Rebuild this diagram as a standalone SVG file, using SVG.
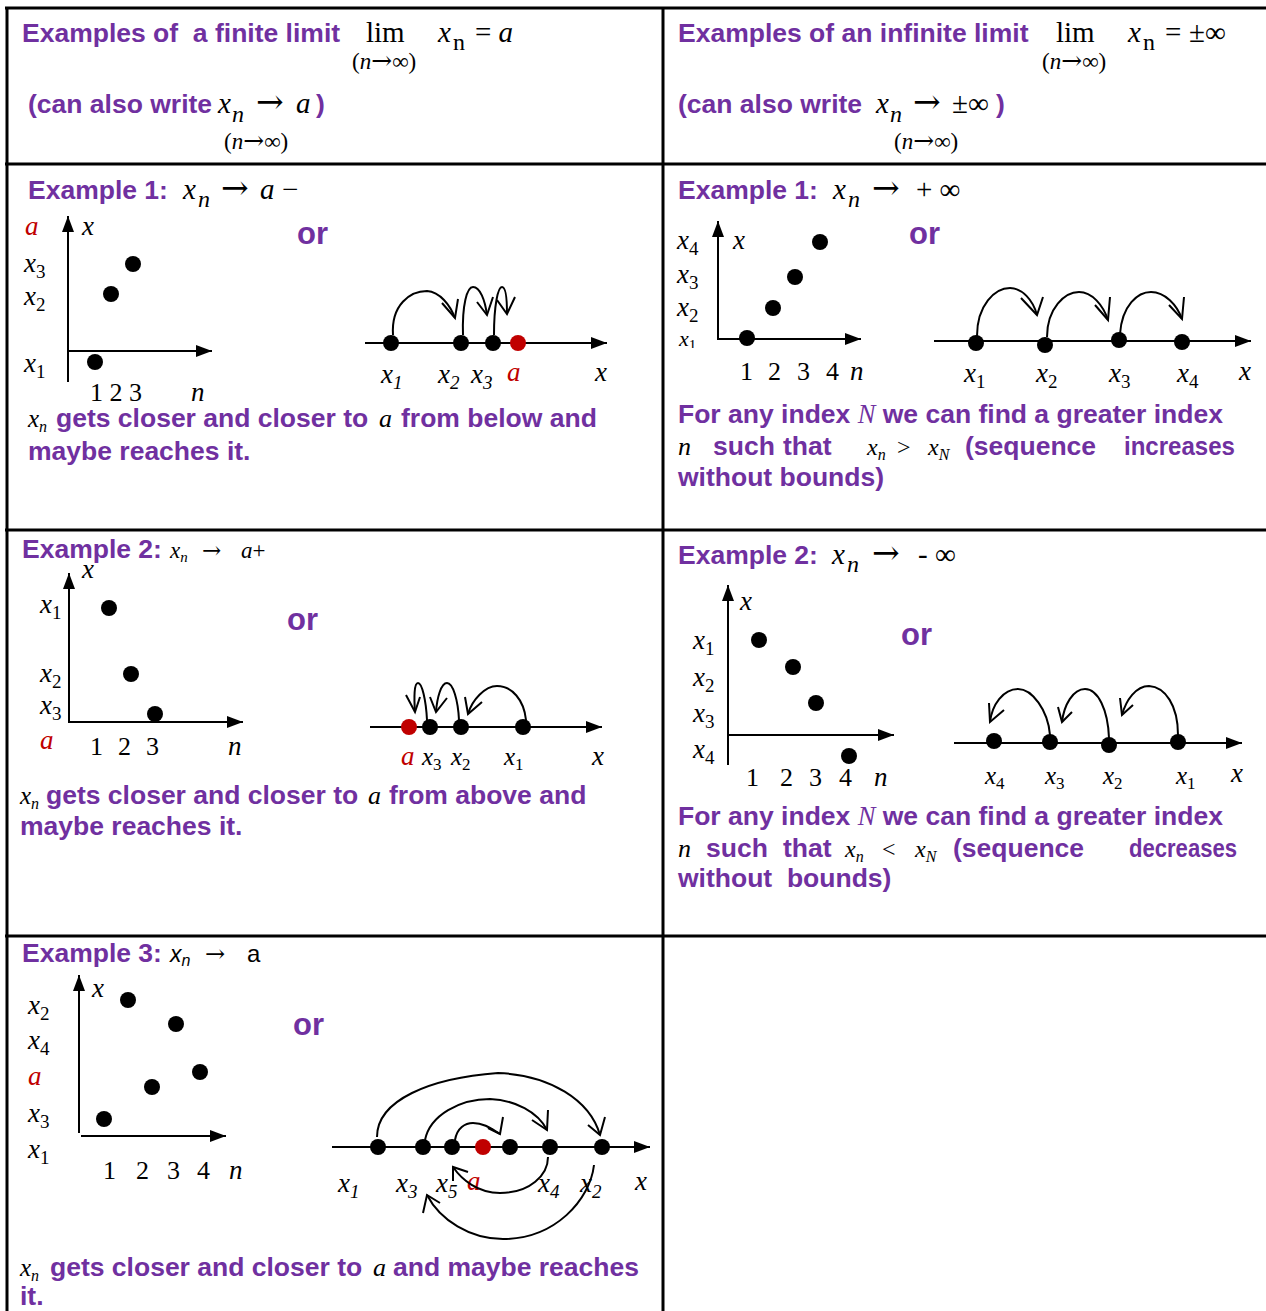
<svg xmlns="http://www.w3.org/2000/svg" width="1266" height="1311" viewBox="0 0 1266 1311">
<style>
.t{font-family:"Liberation Sans",Arial,sans-serif;font-weight:bold;fill:#7030A0;font-size:26.5px;white-space:pre}
.or{font-size:31px}
.m{font-family:"Liberation Serif","Times New Roman",serif;fill:#000;white-space:pre}
.ar{font-family:"DejaVu Serif",serif;font-style:normal;font-weight:normal}
.i{font-style:italic}
.u{font-style:normal}
.red{fill:#C00000}
.lb{font-size:27px}
.ax{stroke:#000;stroke-width:2;fill:none}
.arc{stroke:#000;stroke-width:2;fill:none}
.grid{stroke:#000;stroke-width:3;fill:none}
.dot{fill:#000}
.rdot{fill:#C00000}
</style>
<defs>
<marker id="ah" viewBox="0 0 16 12" refX="16" refY="6" markerWidth="16" markerHeight="12" markerUnits="userSpaceOnUse" orient="auto"><path d="M0,0 L16,6 L0,12 z" fill="#000"/></marker>
<clipPath id="clipx1"><rect x="670" y="320" width="40" height="28"/></clipPath>
</defs>
<rect width="1266" height="1311" fill="#fff"/>
<g id="table">
<line class="grid" x1="5" y1="8" x2="1266" y2="8"/>
<line class="grid" x1="7" y1="7" x2="7" y2="1311"/>
<line class="grid" x1="663" y1="7" x2="663" y2="1311"/>
<line class="grid" x1="5" y1="164" x2="1266" y2="164"/>
<line class="grid" x1="5" y1="530" x2="1266" y2="530"/>
<line class="grid" x1="5" y1="936" x2="1266" y2="936"/>
</g>

<g id="finite-header">
<text class="t" x="22" y="42">Examples of  a finite limit</text>
<text class="m" x="366" y="42" font-size="29">lim</text>
<text class="m" x="352" y="69" font-size="23">(<tspan class="i">n</tspan><tspan class="ar" font-size="25">→</tspan>∞)</text>
<text class="m i" x="438" y="42" font-size="29">x</text>
<text class="m" x="453" y="50" font-size="24">n</text>
<text class="m" x="475" y="42" font-size="29">= <tspan class="i">a</tspan></text>
<text class="t" x="28" y="113">(can also write</text>
<text class="m i" x="218" y="113" font-size="29">x</text>
<text class="m i" x="232" y="122" font-size="24">n</text>
<text class="m ar" x="256" y="113" font-size="33">→</text>
<text class="m i" x="296" y="113" font-size="29">a</text>
<text class="t" x="316" y="113">)</text>
<text class="m" x="224" y="149" font-size="23">(<tspan class="i">n</tspan><tspan class="ar" font-size="25">→</tspan>∞)</text>
</g>

<g id="infinite-header">
<text class="t" x="678" y="42">Examples of an infinite limit</text>
<text class="m" x="1056" y="42" font-size="29">lim</text>
<text class="m" x="1042" y="69" font-size="23">(<tspan class="i">n</tspan><tspan class="ar" font-size="25">→</tspan>∞)</text>
<text class="m i" x="1128" y="42" font-size="29">x</text>
<text class="m" x="1143" y="50" font-size="24">n</text>
<text class="m" x="1165" y="42" font-size="29">=</text>
<text class="m" x="1189" y="42" font-size="29">±∞</text>
<text class="t" x="678" y="113">(can also write</text>
<text class="m i" x="876" y="113" font-size="29">x</text>
<text class="m i" x="890" y="122" font-size="24">n</text>
<text class="m ar" x="913" y="113" font-size="33">→</text>
<text class="m" x="952" y="113" font-size="29">±∞</text>
<text class="t" x="996" y="113">)</text>
<text class="m" x="894" y="149" font-size="23">(<tspan class="i">n</tspan><tspan class="ar" font-size="25">→</tspan>∞)</text>
</g>

<g id="finite-ex1">
<text class="t" x="28" y="199">Example 1:</text>
<text class="m i" x="183" y="199" font-size="29">x</text>
<text class="m i" x="198" y="207" font-size="24">n</text>
<text class="m ar" x="221" y="199" font-size="33">→</text>
<text class="m i" x="260" y="199" font-size="29">a</text>
<text class="m" x="282" y="199" font-size="29">−</text>
<line class="ax" x1="68" y1="382" x2="68" y2="216" marker-end="url(#ah)"/>
<line class="ax" x1="67" y1="351" x2="212" y2="351" marker-end="url(#ah)"/>
<circle class="dot" cx="133" cy="264" r="8"/>
<circle class="dot" cx="111" cy="294" r="8"/>
<circle class="dot" cx="95" cy="362" r="8"/>
<text class="m i lb red" x="25" y="235">a</text>
<text class="m i lb" x="82" y="235">x</text>
<text class="m i lb" x="24" y="272">x<tspan class="u" dy="6" font-size="19">3</tspan></text>
<text class="m i lb" x="24" y="305">x<tspan class="u" dy="6" font-size="19">2</tspan></text>
<text class="m i lb" x="24" y="372">x<tspan class="u" dy="6" font-size="19">1</tspan></text>
<text class="m" x="90" y="401" font-size="26">1 2 3</text>
<text class="m i" x="191" y="401" font-size="27">n</text>
<text class="t or" x="297" y="244">or</text>
<line class="ax" x1="365" y1="343" x2="607" y2="343" marker-end="url(#ah)"/>
<circle class="dot" cx="391" cy="343" r="8"/>
<circle class="dot" cx="461" cy="343" r="8"/>
<circle class="dot" cx="493" cy="343" r="8"/>
<circle class="rdot" cx="518" cy="343" r="8"/>
<text class="m i lb" x="381" y="383">x<tspan dy="6" font-size="19">1</tspan></text>
<text class="m i lb" x="438" y="383">x<tspan dy="6" font-size="19">2</tspan></text>
<text class="m i lb" x="471" y="383">x<tspan dy="6" font-size="19">3</tspan></text>
<text class="m i lb red" x="507" y="381">a</text>
<text class="m i lb" x="595" y="381">x</text>
<text class="m i" x="28" y="427" font-size="25">x<tspan dy="5" font-size="16">n</tspan></text>
<text class="t" x="56" y="427">gets closer and closer to</text>
<text class="m i" x="379" y="427" font-size="26">a</text>
<text class="t" x="401" y="427">from below and</text>
<text class="t" x="28" y="460">maybe reaches it.</text>
</g>

<g id="infinite-ex1">
<text class="t" x="678" y="199">Example 1:</text>
<text class="m i" x="833" y="199" font-size="29">x</text>
<text class="m i" x="848" y="207" font-size="24">n</text>
<text class="m ar" x="872" y="199" font-size="33">→</text>
<text class="m" x="916" y="199" font-size="29">+ ∞</text>
<line class="ax" x1="718" y1="340" x2="718" y2="221" marker-end="url(#ah)"/>
<line class="ax" x1="717" y1="339" x2="861" y2="339" marker-end="url(#ah)"/>
<circle class="dot" cx="820" cy="242" r="8"/>
<circle class="dot" cx="795" cy="277" r="8"/>
<circle class="dot" cx="773" cy="308" r="8"/>
<circle class="dot" cx="747" cy="338" r="8"/>
<text class="m i lb" x="677" y="249">x<tspan class="u" dy="6" font-size="19">4</tspan></text>
<text class="m i lb" x="733" y="249">x</text>
<text class="m i lb" x="677" y="283">x<tspan class="u" dy="6" font-size="19">3</tspan></text>
<text class="m i lb" x="677" y="316">x<tspan class="u" dy="6" font-size="19">2</tspan></text>
<g clip-path="url(#clipx1)"><text class="m i" x="679" y="346" font-size="22">x<tspan class="u" dy="4" font-size="15">1</tspan></text></g>
<text class="m" x="740" y="380" font-size="26">1</text>
<text class="m" x="768" y="380" font-size="26">2</text>
<text class="m" x="797" y="380" font-size="26">3</text>
<text class="m" x="826" y="380" font-size="26">4</text>
<text class="m i" x="850" y="380" font-size="27">n</text>
<text class="t or" x="909" y="244">or</text>
<line class="ax" x1="934" y1="341" x2="1251" y2="341" marker-end="url(#ah)"/>
<circle class="dot" cx="976" cy="343" r="8"/>
<circle class="dot" cx="1045" cy="345" r="8"/>
<circle class="dot" cx="1119" cy="340" r="8"/>
<circle class="dot" cx="1182" cy="342" r="8"/>
<text class="m i lb" x="964" y="382">x<tspan class="u" dy="6" font-size="19">1</tspan></text>
<text class="m i lb" x="1036" y="382">x<tspan class="u" dy="6" font-size="19">2</tspan></text>
<text class="m i lb" x="1109" y="382">x<tspan class="u" dy="6" font-size="19">3</tspan></text>
<text class="m i lb" x="1177" y="382">x<tspan class="u" dy="6" font-size="19">4</tspan></text>
<text class="m i lb" x="1239" y="380">x</text>
<text class="t" x="678" y="423">For any index <tspan font-family="Liberation Serif, Times New Roman, serif" font-style="italic" font-weight="normal">N</tspan> we can find a greater index</text>
<text class="m i" x="678" y="455" font-size="26">n</text>
<text class="t" x="713" y="455">such</text>
<text class="t" x="783" y="455">that</text>
<text class="m i" x="867" y="455" font-size="24">x<tspan dy="5" font-size="16">n</tspan></text>
<text class="m" x="897" y="455" font-size="24">&gt;</text>
<text class="m i" x="928" y="455" font-size="24">x<tspan dy="5" font-size="16">N</tspan></text>
<text class="t" x="965" y="455">(sequence</text>
<text class="t" x="1124" y="455" textLength="111" lengthAdjust="spacingAndGlyphs">increases</text>
<text class="t" x="678" y="486">without bounds)</text>
</g>

<g id="finite-ex2">
<text class="t" x="22" y="558">Example 2:</text>
<text class="m i" x="170" y="558" font-size="23">x<tspan dy="4" font-size="15">n</tspan></text>
<text class="m ar" x="202" y="558" font-size="23">→</text>
<text class="m i" x="241" y="558" font-size="23">a<tspan class="u">+</tspan></text>
<line class="ax" x1="69" y1="723" x2="69" y2="573" marker-end="url(#ah)"/>
<line class="ax" x1="68" y1="722" x2="243" y2="722" marker-end="url(#ah)"/>
<circle class="dot" cx="109" cy="608" r="8"/>
<circle class="dot" cx="131" cy="674" r="8"/>
<circle class="dot" cx="155" cy="714" r="8"/>
<text class="m i lb" x="82" y="578">x</text>
<text class="m i lb" x="40" y="613">x<tspan class="u" dy="6" font-size="19">1</tspan></text>
<text class="m i lb" x="40" y="682">x<tspan class="u" dy="6" font-size="19">2</tspan></text>
<text class="m i lb" x="40" y="714">x<tspan class="u" dy="6" font-size="19">3</tspan></text>
<text class="m i lb red" x="40" y="749">a</text>
<text class="m" x="90" y="755" font-size="26">1</text>
<text class="m" x="118" y="755" font-size="26">2</text>
<text class="m" x="146" y="755" font-size="26">3</text>
<text class="m i" x="228" y="755" font-size="27">n</text>
<text class="t or" x="287" y="630">or</text>
<line class="ax" x1="370" y1="727" x2="602" y2="727" marker-end="url(#ah)"/>
<circle class="rdot" cx="409" cy="727" r="8"/>
<circle class="dot" cx="430" cy="727" r="8"/>
<circle class="dot" cx="461" cy="727" r="8"/>
<circle class="dot" cx="523" cy="727" r="8"/>
<text class="m i lb red" x="401" y="765">a</text>
<text class="m i" x="422" y="765" font-size="25">x<tspan class="u" dy="5" font-size="17">3</tspan></text>
<text class="m i" x="451" y="765" font-size="25">x<tspan class="u" dy="5" font-size="17">2</tspan></text>
<text class="m i" x="504" y="765" font-size="25">x<tspan class="u" dy="5" font-size="17">1</tspan></text>
<text class="m i lb" x="592" y="765">x</text>
<text class="m i" x="20" y="804" font-size="25">x<tspan dy="5" font-size="16">n</tspan></text>
<text class="t" x="46" y="804">gets closer and closer to</text>
<text class="m i" x="368" y="804" font-size="26">a</text>
<text class="t" x="389" y="804">from above and</text>
<text class="t" x="20" y="835">maybe reaches it.</text>
</g>

<g id="infinite-ex2">
<text class="t" x="678" y="564">Example 2:</text>
<text class="m i" x="832" y="564" font-size="29">x</text>
<text class="m i" x="847" y="572" font-size="24">n</text>
<text class="m ar" x="872" y="564" font-size="33">→</text>
<text class="m" x="918" y="564" font-size="29">- ∞</text>
<line class="ax" x1="728" y1="765" x2="728" y2="585" marker-end="url(#ah)"/>
<line class="ax" x1="727" y1="735" x2="894" y2="735" marker-end="url(#ah)"/>
<circle class="dot" cx="759" cy="640" r="8"/>
<circle class="dot" cx="793" cy="667" r="8"/>
<circle class="dot" cx="816" cy="703" r="8"/>
<circle class="dot" cx="849" cy="756" r="8"/>
<text class="m i lb" x="740" y="610">x</text>
<text class="m i lb" x="693" y="649">x<tspan class="u" dy="6" font-size="19">1</tspan></text>
<text class="m i lb" x="693" y="686">x<tspan class="u" dy="6" font-size="19">2</tspan></text>
<text class="m i lb" x="693" y="722">x<tspan class="u" dy="6" font-size="19">3</tspan></text>
<text class="m i lb" x="693" y="758">x<tspan class="u" dy="6" font-size="19">4</tspan></text>
<text class="m" x="746" y="786" font-size="26">1</text>
<text class="m" x="780" y="786" font-size="26">2</text>
<text class="m" x="809" y="786" font-size="26">3</text>
<text class="m" x="839" y="786" font-size="26">4</text>
<text class="m i" x="874" y="786" font-size="27">n</text>
<text class="t or" x="901" y="645">or</text>
<line class="ax" x1="954" y1="743" x2="1242" y2="743" marker-end="url(#ah)"/>
<circle class="dot" cx="994" cy="741" r="8"/>
<circle class="dot" cx="1050" cy="742" r="8"/>
<circle class="dot" cx="1109" cy="745" r="8"/>
<circle class="dot" cx="1178" cy="742" r="8"/>
<text class="m i" x="985" y="784" font-size="25">x<tspan class="u" dy="5" font-size="17">4</tspan></text>
<text class="m i" x="1045" y="784" font-size="25">x<tspan class="u" dy="5" font-size="17">3</tspan></text>
<text class="m i" x="1103" y="784" font-size="25">x<tspan class="u" dy="5" font-size="17">2</tspan></text>
<text class="m i" x="1176" y="784" font-size="25">x<tspan class="u" dy="5" font-size="17">1</tspan></text>
<text class="m i lb" x="1231" y="782">x</text>
<text class="t" x="678" y="825">For any index <tspan font-family="Liberation Serif, Times New Roman, serif" font-style="italic" font-weight="normal">N</tspan> we can find a greater index</text>
<text class="m i" x="678" y="857" font-size="26">n</text>
<text class="t" x="706" y="857">such</text>
<text class="t" x="783" y="857">that</text>
<text class="m i" x="845" y="857" font-size="24">x<tspan dy="5" font-size="16">n</tspan></text>
<text class="m" x="882" y="857" font-size="24">&lt;</text>
<text class="m i" x="915" y="857" font-size="24">x<tspan dy="5" font-size="16">N</tspan></text>
<text class="t" x="953" y="857">(sequence</text>
<text class="t" x="1129" y="857" textLength="108" lengthAdjust="spacingAndGlyphs">decreases</text>
<text class="t" x="678" y="887">without  bounds)</text>
</g>

<g id="finite-ex3">
<text class="t" x="22" y="962">Example 3:</text>
<text x="170" y="962" font-family="Liberation Sans, Arial, sans-serif" font-style="italic" font-size="23">x<tspan dy="4" font-size="16">n</tspan></text>
<text class="m ar" x="205" y="962" font-size="24">→</text>
<text x="247" y="962" font-family="Liberation Sans, Arial, sans-serif" font-size="24">a</text>
<line class="ax" x1="79" y1="1133" x2="79" y2="975" marker-end="url(#ah)"/>
<line class="ax" x1="81" y1="1136" x2="226" y2="1136" marker-end="url(#ah)"/>
<circle class="dot" cx="128" cy="1000" r="8"/>
<circle class="dot" cx="176" cy="1024" r="8"/>
<circle class="dot" cx="200" cy="1072" r="8"/>
<circle class="dot" cx="152" cy="1087" r="8"/>
<circle class="dot" cx="104" cy="1119" r="8"/>
<text class="m i lb" x="92" y="997">x</text>
<text class="m i lb" x="28" y="1014">x<tspan class="u" dy="6" font-size="19">2</tspan></text>
<text class="m i lb" x="28" y="1049">x<tspan class="u" dy="6" font-size="19">4</tspan></text>
<text class="m i lb red" x="28" y="1085">a</text>
<text class="m i lb" x="28" y="1122">x<tspan class="u" dy="6" font-size="19">3</tspan></text>
<text class="m i lb" x="28" y="1158">x<tspan class="u" dy="6" font-size="19">1</tspan></text>
<text class="m" x="103" y="1179" font-size="26">1</text>
<text class="m" x="136" y="1179" font-size="26">2</text>
<text class="m" x="167" y="1179" font-size="26">3</text>
<text class="m" x="197" y="1179" font-size="26">4</text>
<text class="m i" x="229" y="1179" font-size="27">n</text>
<text class="t or" x="293" y="1035">or</text>
<line class="ax" x1="332" y1="1147" x2="650" y2="1147" marker-end="url(#ah)"/>
<circle class="dot" cx="378" cy="1147" r="8"/>
<circle class="dot" cx="423" cy="1147" r="8"/>
<circle class="dot" cx="452" cy="1147" r="8"/>
<circle class="rdot" cx="483" cy="1147" r="8"/>
<circle class="dot" cx="510" cy="1147" r="8"/>
<circle class="dot" cx="550" cy="1147" r="8"/>
<circle class="dot" cx="602" cy="1147" r="8"/>
<text class="m i lb" x="338" y="1192">x<tspan dy="6" font-size="19">1</tspan></text>
<text class="m i lb" x="396" y="1192">x<tspan dy="6" font-size="19">3</tspan></text>
<text class="m i lb" x="436" y="1192">x<tspan dy="6" font-size="19">5</tspan></text>
<text class="m i lb red" x="467" y="1190">a</text>
<text class="m i lb" x="538" y="1192">x<tspan dy="6" font-size="19">4</tspan></text>
<text class="m i lb" x="580" y="1192">x<tspan dy="6" font-size="19">2</tspan></text>
<text class="m i lb" x="635" y="1190">x</text>
<text class="m i" x="20" y="1276" font-size="25">x<tspan dy="5" font-size="16">n</tspan></text>
<text class="t" x="50" y="1276">gets closer and closer to</text>
<text class="m i" x="373" y="1276" font-size="26">a</text>
<text class="t" x="393" y="1276">and maybe reaches</text>
<text class="t" x="20" y="1305">it.</text>
</g>

<g id="connectors">
<path class="arc" d="M393,335 C391,305 410,291 427,291 C440,292 450,305 455,318"/>
<path class="arc" d="M442,303 L455,318 L458,299"/>
<path class="arc" d="M463,335 C462,305 467,287 473,287 C480,287 485,300 487,315"/>
<path class="arc" d="M477,302 L487,315 L493,297"/>
<path class="arc" d="M494,335 C494,305 498,287 502,287 C506,287 507,300 507,314"/>
<path class="arc" d="M497,300 L507,314 L515,297"/>

<path class="arc" d="M977,336 C977,305 995,288 1010,288 C1022,288 1033,300 1037,315"/>
<path class="arc" d="M1021,298 L1037,315 L1043,297"/>
<path class="arc" d="M1047,337 C1047,308 1065,292 1079,292 C1092,292 1103,305 1108,320"/>
<path class="arc" d="M1095,305 L1108,320 L1110,297"/>
<path class="arc" d="M1120,334 C1122,305 1138,292 1151,292 C1165,292 1177,305 1182,319"/>
<path class="arc" d="M1169,305 L1182,319 L1184,297"/>

<path class="arc" d="M526,720 C524,700 512,686 497,686 C485,686 472,700 468,714"/>
<path class="arc" d="M465,697 L468,714 L482,702"/>
<path class="arc" d="M459,720 C458,700 453,683 447,683 C441,683 437,698 436,712"/>
<path class="arc" d="M430,697 L436,712 L447,698"/>
<path class="arc" d="M427,720 C426,700 422,683 418,683 C414,683 414,698 415,712"/>
<path class="arc" d="M406,695 L415,712 L420,697"/>

<path class="arc" d="M1178,735 C1178,705 1165,687 1149,686 C1136,686 1126,700 1122,715"/>
<path class="arc" d="M1120,698 L1122,715 L1133,705"/>
<path class="arc" d="M1109,738 C1108,710 1098,689 1085,689 C1073,689 1064,705 1062,722"/>
<path class="arc" d="M1058,707 L1062,722 L1072,712"/>
<path class="arc" d="M1050,735 C1048,710 1032,689 1018,689 C1003,689 992,705 990,722"/>
<path class="arc" d="M989,703 L990,722 L1004,710"/>

<path class="arc" d="M377,1137 C377,1100 430,1078 498,1073 C550,1075 590,1100 600,1135"/>
<path class="arc" d="M588,1125 L600,1135 L605,1117"/>
<path class="arc" d="M425,1140 C430,1115 460,1099 490,1099 C515,1100 538,1112 547,1130"/>
<path class="arc" d="M532,1120 L547,1130 L548,1110"/>
<path class="arc" d="M455,1140 C457,1128 465,1123 473,1123 C485,1123 493,1130 500,1134"/>
<path class="arc" d="M488,1128 L500,1134 L503,1117"/>
<path class="arc" d="M548,1157 C548,1175 530,1193 500,1193 C478,1193 462,1180 453,1167"/>
<path class="arc" d="M453,1181 L453,1167 L468,1172"/>
<path class="arc" d="M594,1165 C590,1200 555,1239 503,1239 C470,1239 440,1220 427,1195"/>
<path class="arc" d="M423,1213 L427,1195 L440,1203"/>
</g>
</svg>
